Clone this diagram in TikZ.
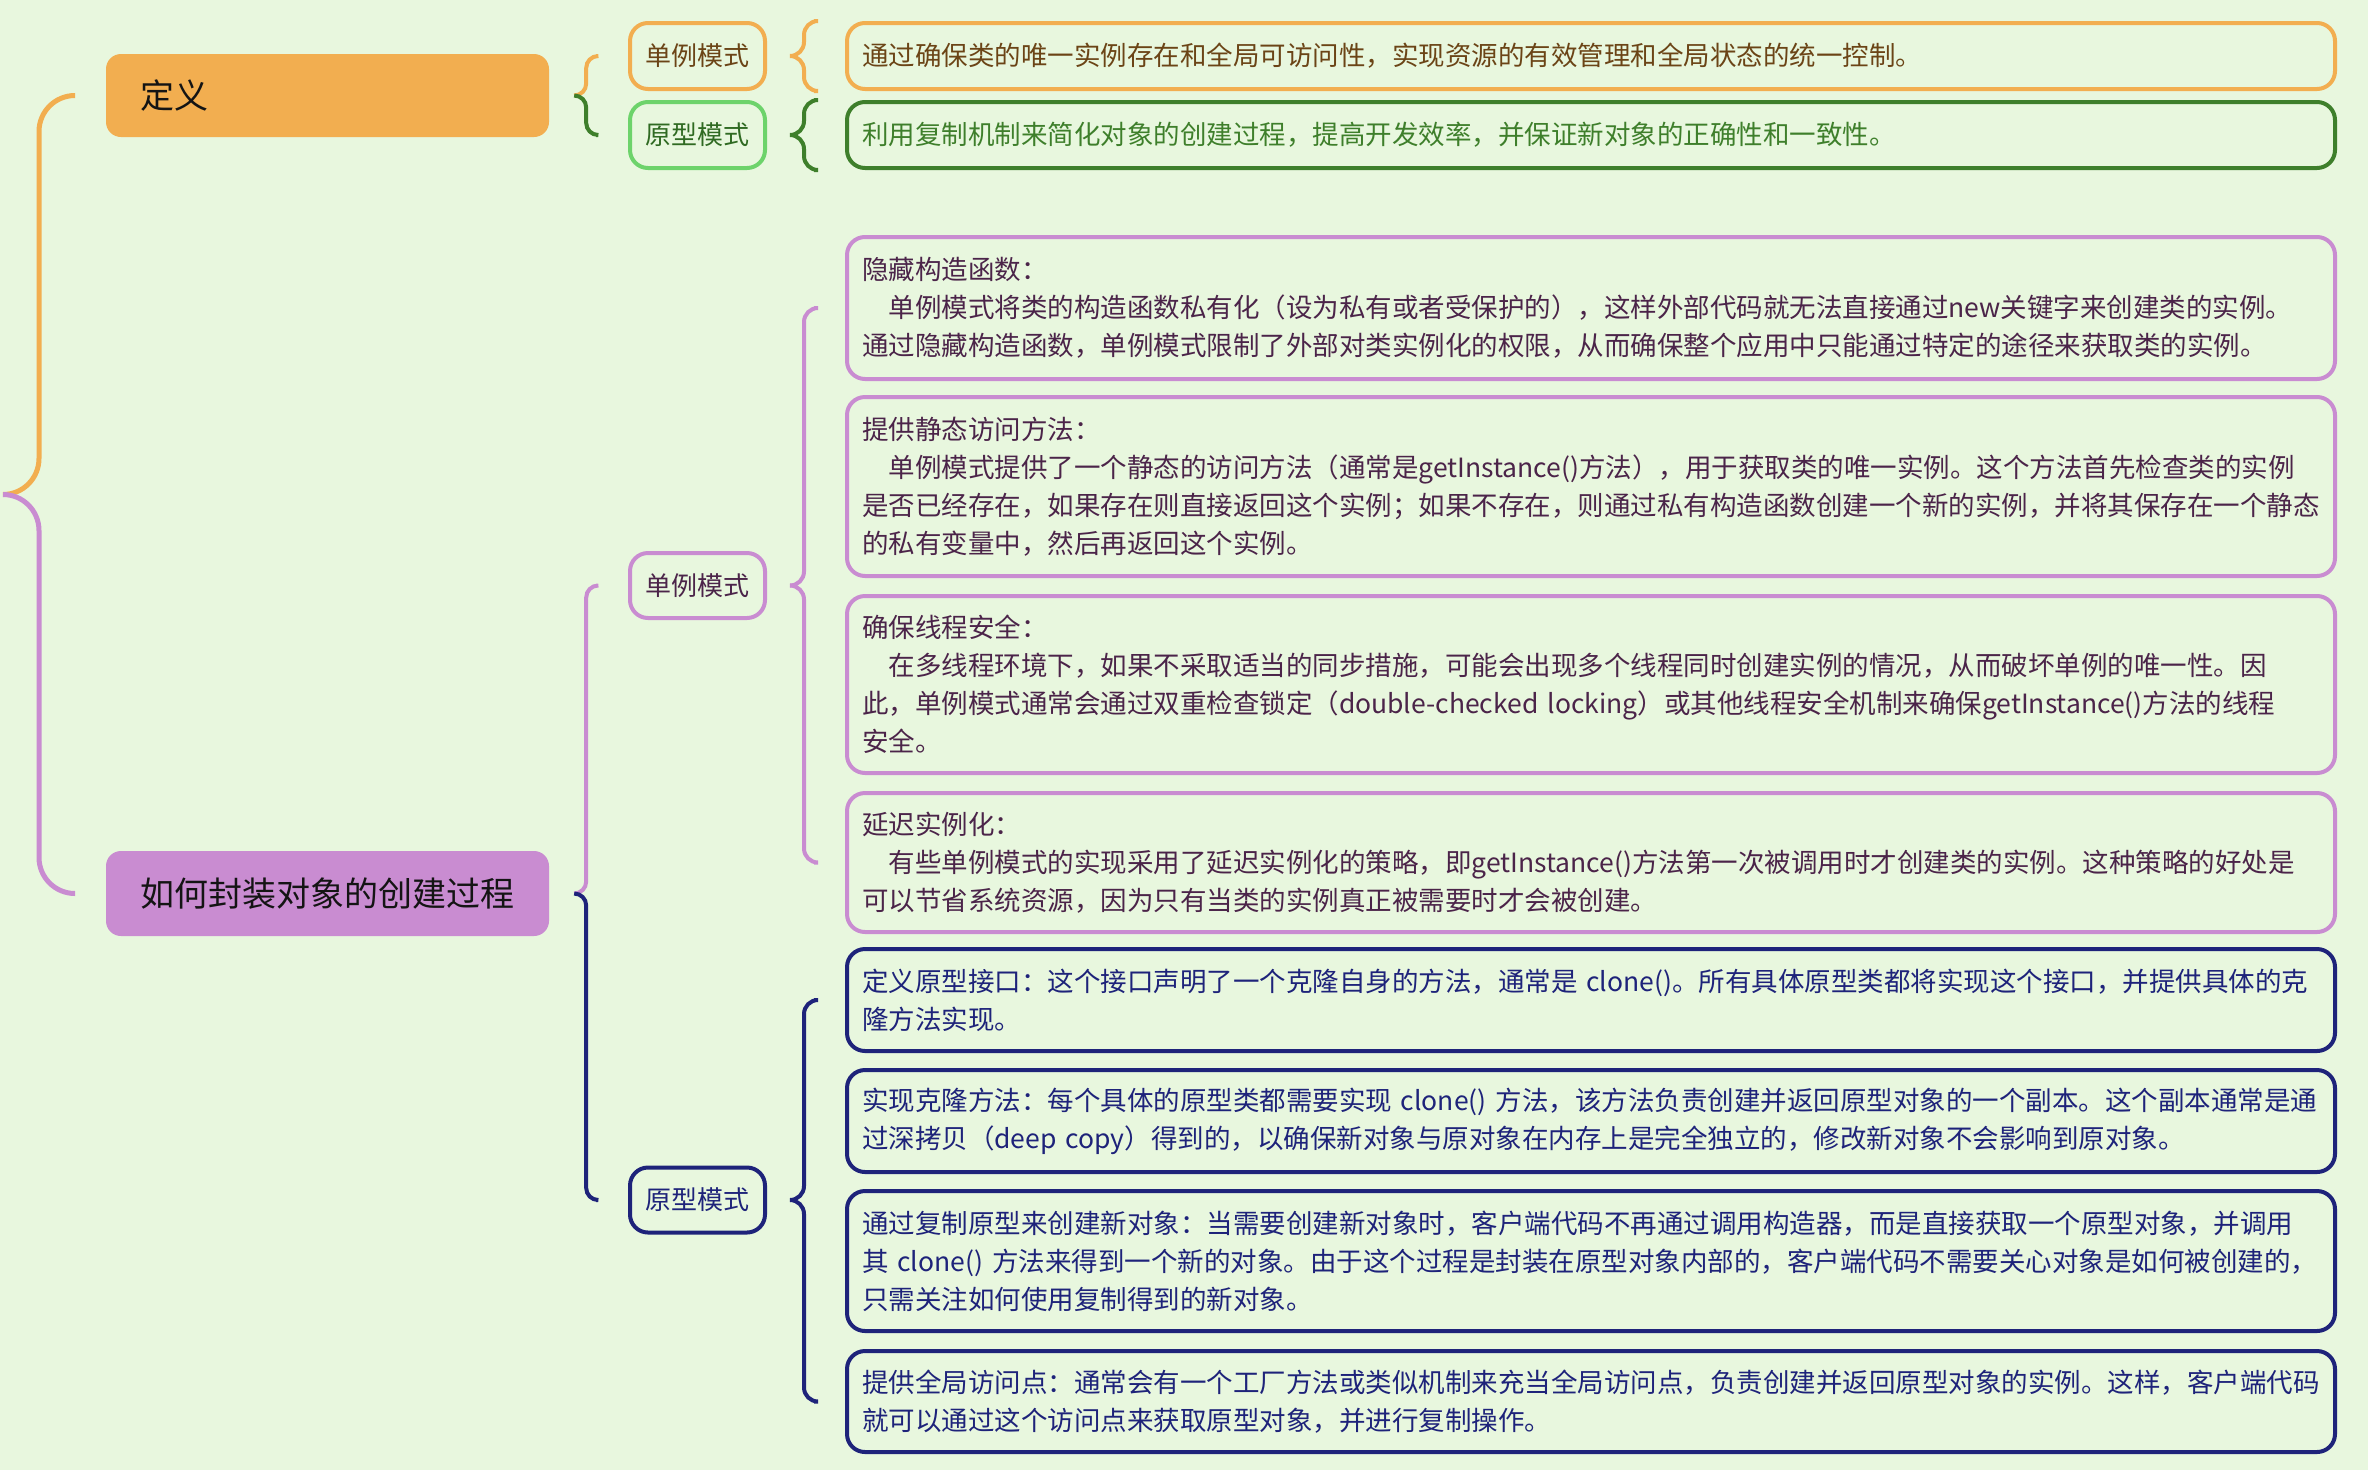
\documentclass[tikz,border=0pt]{standalone}
\usepackage{fontspec}
\setmainfont{Noto Sans CJK SC}
\usetikzlibrary{calc}
\definecolor{bg}{HTML}{E8F7DE}
\definecolor{orangeC}{HTML}{F2AE50}
\definecolor{orangeT}{HTML}{6B4416}
\definecolor{lgreenC}{HTML}{6DD36B}
\definecolor{dgreenC}{HTML}{3E7F2B}
\definecolor{dgreenT}{HTML}{2F6A22}
\definecolor{purpleC}{HTML}{C98CD1}
\definecolor{purpleT}{HTML}{4B2449}
\definecolor{navyC}{HTML}{1E237A}
\definecolor{titleT}{HTML}{141414}
\exhyphenpenalty=10000
\newcommand\bracehalf[4]{\draw[#1, rounded corners=#4pt] (#2) -| ($(#3)+(#4,0)$) -- (#3);}
\begin{document}
\begin{tikzpicture}[x=1pt,y=-1pt,
  lvone/.style={rectangle, rounded corners=15pt, minimum width=443pt, text width=375pt, inner xsep=34pt, inner ysep=0pt, align=left, font=\fontsize{34}{40}\selectfont, text=titleT},
  lvtwo/.style={rectangle, rounded corners=18pt, line width=4pt, minimum width=135pt, minimum height=66pt, inner sep=0pt, font=\fontsize{26}{30}\selectfont},
  leaf/.style={rectangle, rounded corners=18pt, line width=4pt, minimum width=1488pt, text width=1458pt, inner xsep=15pt, inner ysep=0pt, align=left, font=\fontsize{26.5}{38}\selectfont},
  brc/.style={line width=4pt},
  rootbrc/.style={line width=5pt}
]
\fill[bg] (0,0) rectangle (2368,1470);
\useasboundingbox (0,0) rectangle (2368,1470);

% level 1
\node[lvone, fill=orangeC, minimum height=83pt] (def) at (327.5,95.5) {定义};
\node[lvone, fill=purpleC, minimum height=85pt] (how) at (327.5,893.5) {如何封装对象的创建过程};

% level 2
\node[lvtwo, draw=orangeC, text=orangeT] (s1) at (697.5,56) {单例模式};
\node[lvtwo, draw=lgreenC, text=dgreenT] (p1) at (697.5,135) {原型模式};
\node[lvtwo, draw=purpleC, text=purpleT, minimum height=65pt] (s2) at (697.5,585.5) {单例模式};
\node[lvtwo, draw=navyC, text=navyC, minimum height=65pt] (p2) at (697.5,1200) {原型模式};

% leaves
\node[leaf, draw=orangeC, text=orangeT, minimum height=66pt] (la) at (1591,56) {通过确保类的唯一实例存在和全局可访问性，实现资源的有效管理和全局状态的统一控制。};
\node[leaf, draw=dgreenC, text=dgreenC, minimum height=66pt] (lb) at (1591,135) {利用复制机制来简化对象的创建过程，提高开发效率，并保证新对象的正确性和一致性。};

\node[leaf, draw=purpleC, text=purpleT, minimum height=142pt] (l1) at (1591,308) {隐藏构造函数：\\　单例模式将类的构造函数私有化（设为私有或者受保护的），这样外部代码就无法直接通过new关键字来创建类的实例。\\通过隐藏构造函数，单例模式限制了外部对类实例化的权限，从而确保整个应用中只能通过特定的途径来获取类的实例。};
\node[leaf, draw=purpleC, text=purpleT, minimum height=179pt] (l2) at (1591,486.5) {提供静态访问方法：\\　单例模式提供了一个静态的访问方法（通常是getInstance()方法），用于获取类的唯一实例。这个方法首先检查类的实例\\是否已经存在，如果存在则直接返回这个实例；如果不存在，则通过私有构造函数创建一个新的实例，并将其保存在一个静态\\的私有变量中，然后再返回这个实例。};
\node[leaf, draw=purpleC, text=purpleT, minimum height=177pt] (l3) at (1591,684.5) {确保线程安全：\\　在多线程环境下，如果不采取适当的同步措施，可能会出现多个线程同时创建实例的情况，从而破坏单例的唯一性。因\\此，单例模式通常会通过双重检查锁定（double-checked~locking）或其他线程安全机制来确保getInstance()方法的线程\\安全。};
\node[leaf, draw=purpleC, text=purpleT, minimum height=139pt] (l4) at (1591,862.5) {延迟实例化：\\　有些单例模式的实现采用了延迟实例化的策略，即getInstance()方法第一次被调用时才创建类的实例。这种策略的好处是\\可以节省系统资源，因为只有当类的实例真正被需要时才会被创建。};

\node[leaf, draw=navyC, text=navyC, minimum height=102pt] (l5) at (1591,1000) {定义原型接口：这个接口声明了一个克隆自身的方法，通常是~clone()。所有具体原型类都将实现这个接口，并提供具体的克\\隆方法实现。};
\node[leaf, draw=navyC, text=navyC, minimum height=102pt] (l6) at (1591,1121) {实现克隆方法：每个具体的原型类都需要实现~clone()~方法，该方法负责创建并返回原型对象的一个副本。这个副本通常是通\\过深拷贝（deep~copy）得到的，以确保新对象与原对象在内存上是完全独立的，修改新对象不会影响到原对象。};
\node[leaf, draw=navyC, text=navyC, minimum height=140pt] (l7) at (1591,1261) {通过复制原型来创建新对象：当需要创建新对象时，客户端代码不再通过调用构造器，而是直接获取一个原型对象，并调用\\其~clone()~方法来得到一个新的对象。由于这个过程是封装在原型对象内部的，客户端代码不需要关心对象是如何被创建的，\\只需关注如何使用复制得到的新对象。};
\node[leaf, draw=navyC, text=navyC, minimum height=101pt] (l8) at (1591,1401.5) {提供全局访问点：通常会有一个工厂方法或类似机制来充当全局访问点，负责创建并返回原型对象的实例。这样，客户端代码\\就可以通过这个访问点来获取原型对象，并进行复制操作。};

% root brace
\coordinate (root) at (3,494.5);
\bracehalf{rootbrc, orangeC}{$(def.west)+(-31,0)$}{root}{36}
\bracehalf{rootbrc, purpleC}{$(how.west)+(-31,0)$}{root}{36}

% level 1 -> level 2 braces
\coordinate (tdef) at ($(def.east)+(25,0)$);
\bracehalf{brc, orangeC}{$(s1.west)+(-32,0)$}{tdef}{12}
\bracehalf{brc, dgreenC}{$(p1.west)+(-32,0)$}{tdef}{12}
\coordinate (thow) at ($(how.east)+(25,0)$);
\bracehalf{brc, purpleC}{$(s2.west)+(-32,0)$}{thow}{12}
\bracehalf{brc, navyC}{$(p2.west)+(-32,0)$}{thow}{12}

% level 2 -> leaves
\coordinate (ts1) at ($(s1.east)+(23,0)$);
\bracehalf{brc, orangeC}{$(la.north west)+(-31,0)$}{ts1}{14}
\bracehalf{brc, orangeC}{$(la.south west)+(-31,0)$}{ts1}{14}
\coordinate (tp1) at ($(p1.east)+(23,0)$);
\bracehalf{brc, dgreenC}{$(lb.north west)+(-31,0)$}{tp1}{14}
\bracehalf{brc, dgreenC}{$(lb.south west)+(-31,0)$}{tp1}{14}
\coordinate (ts2) at ($(s2.east)+(23,0)$);
\bracehalf{brc, purpleC}{$(l1.west)+(-31,0)$}{ts2}{14}
\bracehalf{brc, purpleC}{$(l4.west)+(-31,0)$}{ts2}{14}
\coordinate (tp2) at ($(p2.east)+(23,0)$);
\bracehalf{brc, navyC}{$(l5.west)+(-31,0)$}{tp2}{14}
\bracehalf{brc, navyC}{$(l8.west)+(-31,0)$}{tp2}{14}
\end{tikzpicture}
\end{document}
